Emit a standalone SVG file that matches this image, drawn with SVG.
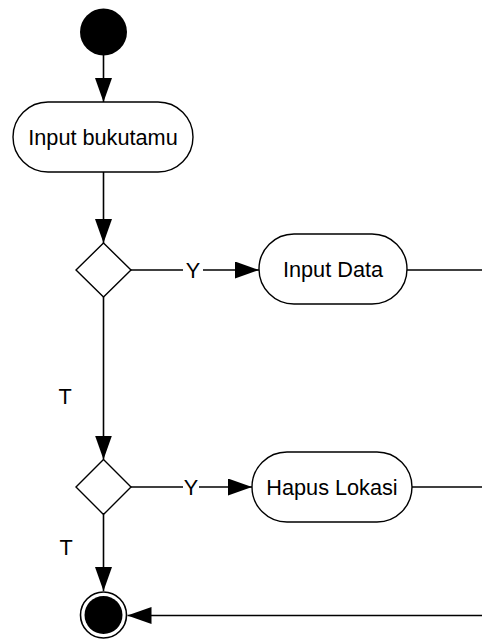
<svg xmlns="http://www.w3.org/2000/svg" width="482" height="640" viewBox="0 0 482 640">
  <defs>
    <marker id="arrow" viewBox="0 0 24 17" refX="24" refY="8.5" markerWidth="24" markerHeight="17" markerUnits="userSpaceOnUse" orient="auto">
      <path d="M0,0 L24,8.5 L0,17 Z" fill="#000"/>
    </marker>
  </defs>
  <style>
    .node { fill: #fff; stroke: #000; stroke-width: 1.4; }
    .edge { fill: none; stroke: #000; stroke-width: 1.6; }
    .label { font-family: "Liberation Sans", Arial, sans-serif; font-size: 21.7px; fill: #000; }
    .mid { text-anchor: middle; }
  </style>
  <rect width="482" height="640" fill="#fff"/>

  <!-- connectors -->
  <g id="connectors">
    <line class="edge" x1="103.5" y1="55" x2="103.5" y2="102" marker-end="url(#arrow)"/>
    <line class="edge" x1="103.5" y1="172" x2="103.5" y2="243" marker-end="url(#arrow)"/>
    <line class="edge" x1="131" y1="270" x2="183" y2="270"/>
    <line class="edge" x1="203" y1="270" x2="259" y2="270" marker-end="url(#arrow)"/>
    <text class="label mid" x="193" y="277.8">Y</text>
    <line class="edge" x1="407" y1="270" x2="482" y2="270"/>
    <line class="edge" x1="103.5" y1="297" x2="103.5" y2="459.5" marker-end="url(#arrow)"/>
    <text class="label mid" x="65" y="404">T</text>
    <line class="edge" x1="131" y1="487" x2="183" y2="487"/>
    <line class="edge" x1="199" y1="487" x2="252" y2="487" marker-end="url(#arrow)"/>
    <text class="label mid" x="191" y="494.8">Y</text>
    <line class="edge" x1="412" y1="487" x2="482" y2="487"/>
    <line class="edge" x1="103.5" y1="514.5" x2="103.5" y2="591" marker-end="url(#arrow)"/>
    <text class="label mid" x="66" y="555">T</text>
    <line class="edge" x1="482" y1="615.5" x2="127.5" y2="615.5" marker-end="url(#arrow)"/>
  </g>

  <!-- start -->
  <g id="start">
    <circle cx="103.5" cy="32" r="23.5" fill="#000"/>
  </g>

  <g id="input-bukutamu">
    <rect class="node" x="13" y="102" width="180" height="70" rx="35" ry="35"/>
    <text class="label mid" x="103" y="145">Input bukutamu</text>
  </g>

  <g id="decision-1">
    <polygon class="node" points="103.5,243 131,270 103.5,297 76,270"/>
  </g>

  <g id="input-data">
    <rect class="node" x="259" y="234" width="148" height="70" rx="35" ry="35"/>
    <text class="label mid" x="333" y="277">Input Data</text>
  </g>

  <g id="decision-2">
    <polygon class="node" points="103.5,459.5 131,487 103.5,514.5 76,487"/>
  </g>

  <g id="hapus-lokasi">
    <rect class="node" x="252" y="452" width="160" height="70" rx="35" ry="35"/>
    <text class="label mid" x="332" y="494.8">Hapus Lokasi</text>
  </g>

  <!-- end -->
  <g id="end">
    <circle cx="103.5" cy="615" r="23" fill="#fff" stroke="#000" stroke-width="1.6"/>
    <circle cx="103.5" cy="615" r="19" fill="#000"/>
  </g>
</svg>
